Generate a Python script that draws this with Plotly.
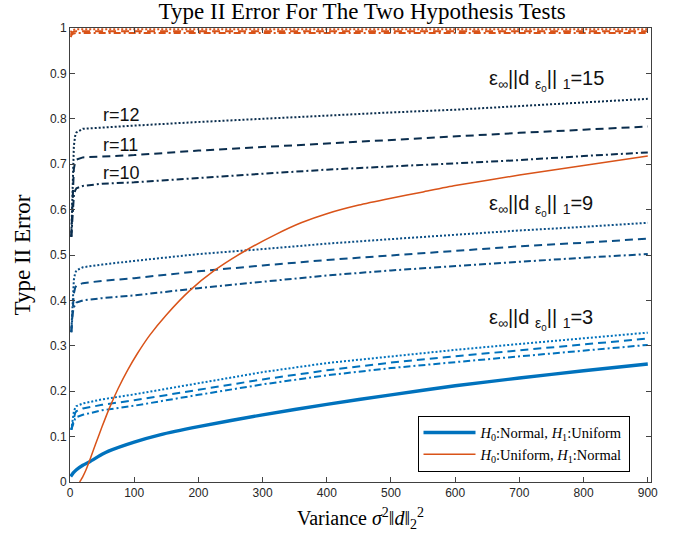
import plotly.graph_objects as go

# ---------------- data ----------------
x_r = [2, 4, 6, 8, 10, 20, 50, 100, 200, 300, 400, 500, 600, 700, 800, 900]

# eps*||d||_1 = 15
g15_r10 = [0.54, 0.60, 0.63, 0.642, 0.647, 0.652, 0.657, 0.660, 0.670, 0.679, 0.688, 0.695, 0.701, 0.709, 0.718, 0.726]
g15_r11 = [0.54, 0.64, 0.69, 0.705, 0.710, 0.715, 0.717, 0.720, 0.730, 0.738, 0.746, 0.754, 0.761, 0.769, 0.776, 0.783]
g15_r12 = [0.54, 0.68, 0.74, 0.762, 0.770, 0.778, 0.781, 0.785, 0.793, 0.800, 0.808, 0.814, 0.820, 0.828, 0.836, 0.844]

# eps*||d||_1 = 9
g9_r10 = [0.33, 0.37, 0.385, 0.392, 0.395, 0.400, 0.405, 0.411, 0.427, 0.441, 0.455, 0.466, 0.476, 0.485, 0.494, 0.502]
g9_r11 = [0.33, 0.39, 0.415, 0.428, 0.433, 0.438, 0.443, 0.449, 0.464, 0.477, 0.489, 0.499, 0.509, 0.519, 0.527, 0.536]
g9_r12 = [0.33, 0.41, 0.445, 0.460, 0.466, 0.473, 0.479, 0.487, 0.502, 0.513, 0.525, 0.535, 0.545, 0.554, 0.562, 0.571]

# eps*||d||_1 = 3
g3_r10 = [0.115, 0.125, 0.135, 0.140, 0.143, 0.148, 0.158, 0.168, 0.192, 0.215, 0.235, 0.251, 0.264, 0.277, 0.290, 0.302]
g3_r11 = [0.115, 0.130, 0.145, 0.152, 0.156, 0.162, 0.170, 0.180, 0.203, 0.226, 0.246, 0.263, 0.277, 0.290, 0.303, 0.316]
g3_r12 = [0.115, 0.135, 0.155, 0.163, 0.167, 0.173, 0.182, 0.193, 0.218, 0.242, 0.262, 0.277, 0.291, 0.304, 0.317, 0.329]

# Uniform-null tests (orange, near 1)
x_top = [1, 3, 6, 10, 20, 50, 100, 200, 300, 400, 500, 600, 700, 800, 900]
top_r10 = [0.980, 0.986, 0.988, 0.989, 0.989, 0.989, 0.989, 0.989, 0.989, 0.989, 0.989, 0.989, 0.989, 0.989, 0.989]
top_r11 = [0.985, 0.990, 0.992, 0.993, 0.993, 0.993, 0.993, 0.993, 0.993, 0.993, 0.993, 0.993, 0.993, 0.993, 0.993]
top_r12 = [0.990, 0.995, 0.996, 0.997, 0.997, 0.997, 0.997, 0.997, 0.997, 0.997, 0.997, 0.997, 0.997, 0.997, 0.997]

# H0: Normal, H1: Uniform
x_nu = [1, 5, 10, 20, 30, 50, 60, 100, 140, 200, 300, 400, 500, 600, 700, 800, 900]
y_nu = [0.012, 0.020, 0.027, 0.037, 0.044, 0.061, 0.068, 0.088, 0.104, 0.122, 0.148, 0.171, 0.192, 0.212, 0.229, 0.245, 0.260]

# H0: Uniform, H1: Normal
x_un = [15, 20, 25, 30, 40, 50, 62, 75, 90, 105, 124, 150, 186, 225, 275, 320, 360, 400, 450, 500, 550, 600, 700, 800, 900]
y_un = [0.0, 0.012, 0.027, 0.045, 0.084, 0.122, 0.165, 0.206, 0.247, 0.283, 0.323, 0.368, 0.421, 0.466, 0.511, 0.545,
        0.571, 0.591, 0.610, 0.625, 0.639, 0.653, 0.676, 0.697, 0.718]

x_ticks = [0, 100, 200, 300, 400, 500, 600, 700, 800, 900]
y_ticks = [0, 0.1, 0.2, 0.3, 0.4, 0.5, 0.6, 0.7, 0.8, 0.9, 1]
y_tick_text = ["0", "0.1", "0.2", "0.3", "0.4", "0.5", "0.6", "0.7", "0.8", "0.9", "1"]

# ---------------- styles ----------------
C15 = "#0a2d4d"
C9 = "#0b4f86"
C3 = "#0072bd"
CB = "#0072bd"
CO = "#d95319"
DOT = "2px,2px"
DASH = "8px,5px"
DASHDOT = "7px,3px,2px,3px"

fig = go.Figure()

def add(x, y, color, dash, width=2, name=None, show=False):
    fig.add_trace(go.Scatter(x=x, y=y, mode="lines", name=name, showlegend=show,
                             line=dict(color=color, dash=dash, width=width)))

for ys, c in [((g15_r10, g15_r11, g15_r12), C15), ((g9_r10, g9_r11, g9_r12), C9), ((g3_r10, g3_r11, g3_r12), C3)]:
    add(x_r, ys[0], c, DASHDOT)
    add(x_r, ys[1], c, DASH)
    add(x_r, ys[2], c, DOT)

add(x_top, top_r10, CO, DASHDOT)
add(x_top, top_r11, CO, DASH)
add(x_top, top_r12, CO, DOT)

fig.add_trace(go.Scatter(x=x_nu, y=y_nu, mode="lines", line=dict(color=CB, width=3.4, shape="spline", smoothing=0.6),
                         name="<i>H</i><sub>0</sub>:Normal, <i>H</i><sub>1</sub>:Uniform"))
fig.add_trace(go.Scatter(x=x_un, y=y_un, mode="lines", line=dict(color=CO, width=1.5, shape="spline", smoothing=0.5),
                         name="<i>H</i><sub>0</sub>:Uniform, <i>H</i><sub>1</sub>:Normal"))

SANS = "Liberation Sans, Arial, sans-serif"
SERIF = "Liberation Serif, Times New Roman, serif"

ann = []
for txt, yy in [("r=12", 0.809), ("r=11", 0.743), ("r=10", 0.681)]:
    ann.append(dict(x=48, y=yy, xref="x", yref="y", text=txt, showarrow=False, xanchor="left", yanchor="middle",
                    font=dict(family=SANS, size=18, color="#111")))
for val, yy in [("15", 0.884), ("9", 0.608), ("3", 0.359)]:
    ann.append(dict(x=650, y=yy, xref="x", yref="y",
                    text="ε<sub>∞</sub>||d <sub>ε<sub>0</sub></sub>|| <sub>1</sub>=" + val,
                    showarrow=False, xanchor="left", yanchor="middle",
                    font=dict(family=SANS, size=20, color="#111")))

fig.update_layout(
    width=677, height=534,
    margin=dict(l=70, r=26, t=28, b=52),
    paper_bgcolor="white", plot_bgcolor="white",
    title=dict(text="Type II Error For The Two Hypothesis Tests", x=0.535, xanchor="center", y=0.979, yanchor="middle",
               font=dict(family=SERIF, size=23, color="#000")),
    annotations=ann,
    legend=dict(x=0.963, y=0.023, xanchor="right", yanchor="bottom", bgcolor="white",
                bordercolor="#000", borderwidth=1, font=dict(family=SERIF, size=14.5, color="#000"),
                tracegroupgap=0, itemwidth=52),
    showlegend=True,
)
fig.update_xaxes(range=[0, 905], tickvals=x_ticks, ticks="inside", ticklen=5, mirror="ticks", showline=True,
                 linecolor="#404040", linewidth=1, showgrid=False, zeroline=False, automargin=False,
                 tickfont=dict(family=SANS, size=12, color="#262626"),
                 title=dict(text="Variance <i>σ</i><sup>2</sup>‖<i>d</i>‖<sub>2</sub><sup>2</sup>",
                            font=dict(family=SERIF, size=20, color="#000"), standoff=11))
fig.update_yaxes(range=[0, 1], tickvals=y_ticks, ticktext=y_tick_text, ticks="inside", ticklen=5, mirror="ticks",
                 showline=True, linecolor="#404040", linewidth=1, showgrid=False, zeroline=False, automargin=False,
                 tickfont=dict(family=SANS, size=12, color="#262626"),
                 title=dict(text="Type II Error", font=dict(family=SERIF, size=23, color="#000"), standoff=12))

fig.write_html("out.html", config={"displayModeBar": False},
               post_script="document.body.style.margin='0';")
